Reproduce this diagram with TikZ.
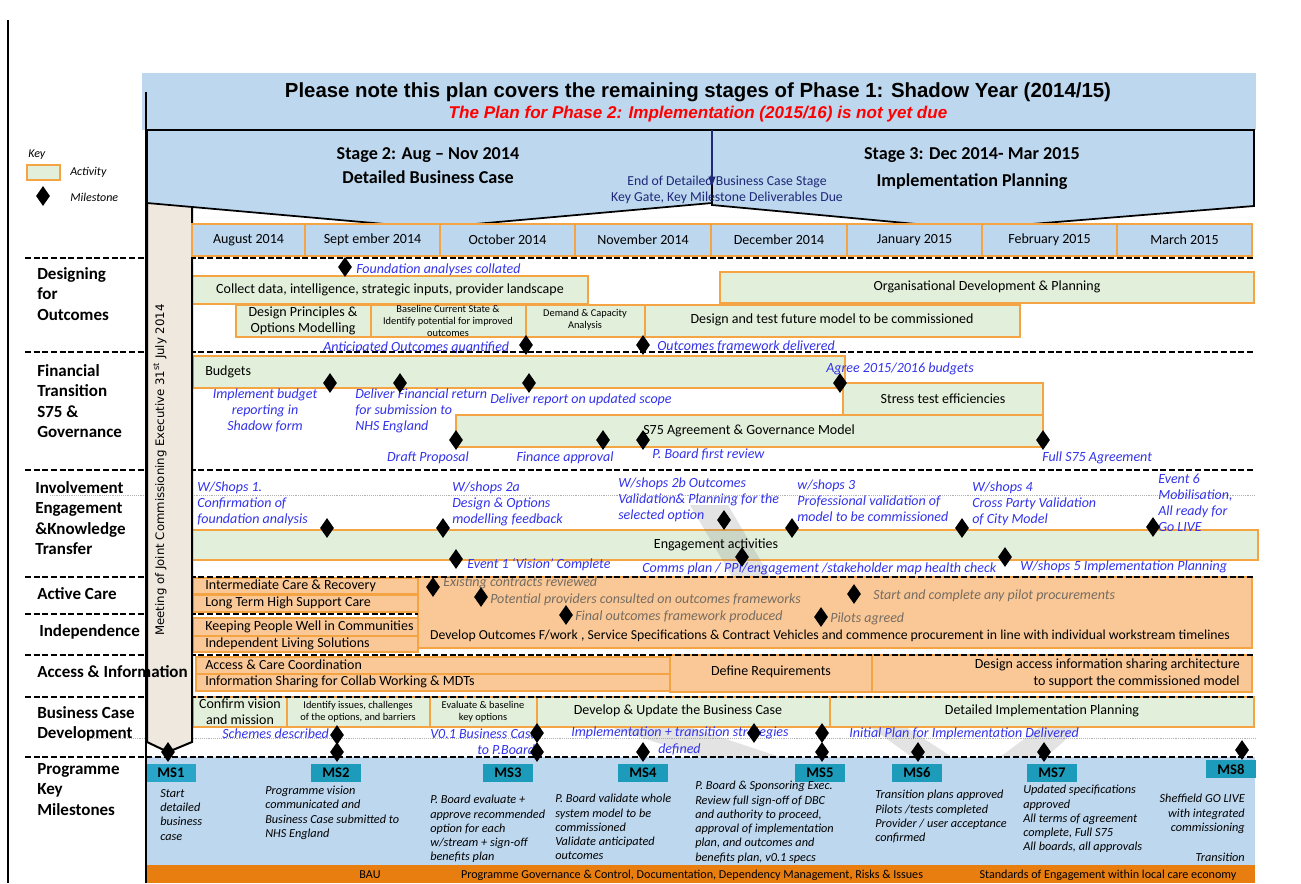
\documentclass[tikz,border=0pt]{standalone}
\usepackage{fontspec}
\setmainfont{Carlito}
\newfontfamily\arialfont{Liberation Sans}
\newfontfamily\barfont{DejaVu Sans}
\usetikzlibrary{shapes.geometric,arrows.meta}

\definecolor{hdrblue}{RGB}{189,215,238}
\definecolor{actgreen}{RGB}{226,239,218}
\definecolor{actedge}{RGB}{244,164,66}
\definecolor{carefill}{RGB}{250,200,150}
\definecolor{msteal}{RGB}{28,156,186}
\definecolor{msfirst}{RGB}{40,165,200}
\definecolor{bauorange}{RGB}{232,126,16}
\definecolor{barbeige}{RGB}{238,232,222}
\definecolor{noteblue}{RGB}{50,50,235}
\definecolor{notegrey}{RGB}{118,108,98}
\definecolor{gatenavy}{RGB}{32,40,120}

\tikzset{
  act/.style={draw=actedge, fill=actgreen, line width=0.9pt},
  care/.style={draw=actedge, fill=carefill, line width=0.9pt},
  sep/.style={line width=1.7pt, dash pattern=on 4.5pt off 2pt},
  ghost/.style={fill=gray, opacity=0.22},
  ms/.style={diamond, fill=black, inner sep=0pt, minimum width=10.5pt, minimum height=15pt},
  note/.style={text=noteblue, font=\fontsize{10.5}{12}\selectfont\itshape, inner sep=0pt, anchor=west, align=left},
  gnote/.style={text=notegrey, font=\fontsize{10.5}{12}\selectfont\itshape, inner sep=0pt, anchor=west},
  lbl/.style={font=\fontsize{12.75}{15.3}\selectfont\bfseries, anchor=north west, inner sep=0pt, align=left},
  txt/.style={font=\fontsize{10.5}{12}\selectfont, inner sep=0pt, align=center},
  small/.style={font=\fontsize{7.8}{9}\selectfont, inner sep=0pt, align=center},
  msbox/.style={fill=msteal, font=\fontsize{11}{12}\selectfont\bfseries, inner sep=0pt,
    minimum width=37.5pt, minimum height=13.5pt},
  msnote/.style={font=\fontsize{9.2}{10.7}\selectfont\itshape, align=left, anchor=north west, inner sep=0pt},
}

\begin{document}
\begin{tikzpicture}[x=0.75pt, y=-0.75pt]
\useasboundingbox (0,0) rectangle (1301,883);
% outer frame
\draw[line width=1pt] (8,20) -- (8,883);

% key
\node[font=\fontsize{9}{11}\selectfont\itshape, anchor=west, inner sep=0pt] (key) at (28,155) {Key};
\draw[act] (27,165) rectangle (60,180);
\node[font=\fontsize{9}{11}\selectfont\itshape, anchor=west, inner sep=0pt] (keyact) at (70,172) {Activity};
\node[ms] (keyms) at (43,196) {};
\node[font=\fontsize{9}{11}\selectfont\itshape, anchor=west, inner sep=0pt] (keymile) at (70,197) {Milestone};

% Designing for Outcomes
\draw[act] (192,276) rectangle (588,304);
\node[txt] (collect) at (390,290) {Collect data, intelligence, strategic inputs, provider landscape};
\draw[act] (720,272) rectangle (1254,303);
\node[txt] (orgdev) at (987,287) {Organisational  Development  \& Planning};
\draw[act] (236,305) rectangle (371,337);
\node[txt] (principles) at (303,321) {Design Principles \&\\Options Modelling};
\draw[act] (371,305) rectangle (526,337);
\node[small] (baseline) at (448,321) {Baseline Current State \&\\Identify potential for improved\\outcomes};
\draw[act] (526,305) rectangle (645,337);
\node[small] (demand) at (585,320) {Demand \& Capacity\\Analysis};
\draw[act] (645,305) rectangle (1020,337);
\node[txt] (testmodel) at (832,320) {Design and test future model to be commissioned};
\node[note] (nfound) at (356,270) {Foundation analyses collated};
\node[note] (nanticip) at (323,348) {Anticipated Outcomes quantified};
\node[note] (nframe) at (657,346) {Outcomes framework delivered};

% Financial Transition
\draw[act] (193,356) rectangle (845,388);
\node[txt, anchor=west] (budgets) at (205,372) {Budgets};
\draw[act] (843,383) rectangle (1043,415);
\node[txt] (stress) at (943,399) {Stress test efficiencies};
\draw[act] (456,415) rectangle (1043,447);
\node[txt, anchor=west] (s75) at (643,431) {S75 Agreement  \& Governance Model};
\node[note, anchor=north, align=center] (nimpl) at (265,388) {Implement budget\\reporting  in\\Shadow form};
\node[note, anchor=north west] (nreturn) at (355,388) {Deliver Financial return\\for submission to\\NHS England};
\node[note] (nreport) at (490,400) {Deliver report on updated scope};
\node[note] (nagree) at (826,369) {Agree 2015/2016 budgets};
\node[note, anchor=center] (ndraft) at (428,458) {Draft Proposal};
\node[note, anchor=center] (napprove) at (565,458) {Finance approval};
\node[note] (nreview) at (652,454) {P. Board  first review};
\node[note] (nfull) at (1042,458) {Full S75 Agreement};

% Involvement Engagement
\draw[densely dotted, gray!60, line width=0.4pt] (50,495) -- (1255,495);
\draw[act] (192,530) rectangle (1258,560);
\fill[ghost] (690,505) -- (728,505) -- (775,585) -- (737,585) -- cycle;
\node[txt] (engage) at (716,545) {Engagement activities};
\node[note, anchor=north west] (nws1) at (197,481) {W/Shops 1.\\Confirmation of\\foundation analysis};
\node[note, anchor=north west] (nws2a) at (452,481) {W/shops 2a\\Design \& Options\\modelling  feedback};
\node[note, anchor=north west] (nws2b) at (618,477) {W/shops 2b  Outcomes\\Validation\& Planning for the\\selected option};
\node[note, anchor=north west] (nws3) at (797,479) {w/shops  3\\Professional validation of\\model to be commissioned};
\node[note, anchor=north west] (nws4) at (972,481) {W/shops 4\\Cross Party Validation\\of City Model};
\node[note, anchor=north west] (nev6) at (1158,474) {Event 6\\Mobilisation,\\All ready for\\Go LIVE};
\node[note] (nev1) at (467,565) {Event 1 ‘Vision’ Complete};
\node[note] (ncomms) at (642,569) {Comms plan / PPI/engagement /stakeholder map health check};
\node[note] (nws5) at (1020,567) {W/shops 5  Implementation Planning};

% Active Care and Independence
\draw[care] (418,577) rectangle (1252,648);
\node[txt, font=\fontsize{10.3}{12}\selectfont] (develop) at (830,636) {Develop Outcomes F/work , Service Specifications \& Contract Vehicles and commence procurement in line with individual workstream timelines};
\draw[care] (193,578) rectangle (418,594);
\node[txt, anchor=west] (intcare) at (205,586) {Intermediate Care \& Recovery};
\draw[care] (193,595) rectangle (418,612);
\node[txt, anchor=west] (ltcare) at (205,603) {Long Term High Support Care};
\draw[care] (193,618) rectangle (418,636);
\node[txt, anchor=west] (keepwell) at (205,627) {Keeping People Well in Communities};
\draw[care] (193,636) rectangle (418,652);
\node[txt, anchor=west] (indliving) at (205,644) {Independent Living Solutions};
\node[gnote] (ncontracts) at (443,583) {Existing contracts reviewed};
\node[gnote] (nproviders) at (490,600) {Potential providers consulted  on outcomes frameworks};
\node[gnote] (nfinalfw) at (575,617) {Final outcomes framework produced};
\node[gnote] (npilotproc) at (873,596) {Start and complete any pilot procurements};
\node[gnote] (npilots) at (830,619) {Pilots agreed};

% Access and Information
\draw[care] (196,657) rectangle (670,674);
\node[txt, anchor=west] (accesscoord) at (205,665) {Access \& Care Coordination};
\draw[care] (196,674) rectangle (670,691);
\node[txt, anchor=west] (infoshare) at (205,682) {Information Sharing for Collab Working \& MDTs};
\draw[care] (670,655) rectangle (872,692);
\node[txt] (definereq) at (771,672) {Define Requirements};
\draw[care] (872,655) rectangle (1252,692);
\node[txt, anchor=east, align=right, font=\fontsize{10.5}{12.75}\selectfont] (architecture) at (1240,673) {Design access information sharing architecture\\to support the commissioned model};

% Business Case Development
\draw[densely dotted, gray!60, line width=0.4pt] (90,738) -- (1255,738);
\fill[ghost] (610,727) -- (690,727) -- (780,757) -- (700,757) -- cycle;
\fill[ghost] (870,727) -- (906,727) -- (952,757) -- (912,757) -- cycle;
\fill[ghost] (1040,727) -- (1080,727) -- (1046,757) -- (1000,757) -- cycle;
\draw[act] (193,697) rectangle (287,727);
\node[txt] (confirm) at (240,712) {Confirm vision\\and mission};
\draw[act] (287,697) rectangle (430,727);
\node[small] (issues) at (358,712) {Identify issues, challenges\\of the options, and barriers};
\draw[act] (430,697) rectangle (537,727);
\node[small] (evaluate) at (483,712) {Evaluate \& baseline\\key options};
\draw[act] (537,697) rectangle (830,727);
\node[txt] (update) at (678,711) {Develop \& Update the Business Case};
\draw[act] (830,697) rectangle (1254,727);
\node[txt] (detailed) at (1042,711) {Detailed Implementation Planning};
\node[note] (nschemes) at (222,734) {Schemes described};
\node[note] (nv01) at (430,734) {V0.1 Business Case};
\node[note] (npboard) at (477,750) {to P.Board};
\node[note] (nstrat) at (571,733) {Implementation +  transition strategies};
\node[note] (ndefined) at (658,749) {defined};
\node[note] (ninitial) at (849,734) {Initial Plan for Implementation Delivered};

% Programme Key Milestones
\fill[hdrblue] (146,757) rectangle (1255,865);
\fill[bauorange] (146,865) rectangle (1255,883);
\node[txt, font=\fontsize{9.1}{10}\selectfont] (bau) at (370,875) {BAU};
\node[txt, font=\fontsize{9.1}{10}\selectfont] (govern) at (692,875) {Programme Governance \& Control, Documentation, Dependency Management, Risks \& Issues};
\node[txt, font=\fontsize{9.1}{10}\selectfont] (standards) at (1108,875) {Standards of Engagement within local care economy};
\node[msbox, fill=msfirst] (ms1) at (171,773) {MS1};
\node[msbox] (ms2) at (336,773) {MS2};
\node[msbox] (ms3) at (508,773) {MS3};
\node[msbox] (ms4) at (643,773) {MS4};
\node[msbox] (ms5) at (820,773) {MS5};
\node[msbox] (ms6) at (917,773) {MS6};
\node[msbox] (ms7) at (1052,773) {MS7};
\node[msbox] (ms8) at (1231,769) {MS8};
\node[msnote] (t1) at (160,789) {Start\\detailed\\business\\case};
\node[msnote] (t2) at (265,786) {Programme vision\\communicated and\\Business Case  submitted to\\NHS England};
\node[msnote] (t3) at (430,795) {P. Board evaluate +\\approve recommended\\option for each\\w/stream + sign-off\\benefits  plan};
\node[msnote] (t4) at (555,794) {P. Board  validate whole\\system model to be\\commissioned\\Validate anticipated\\outcomes};
\node[msnote] (t5) at (695,781) {P. Board \& Sponsoring Exec.\\Review full sign-off of  DBC\\and authority to proceed,\\approval of implementation\\plan, and outcomes and\\benefits  plan, v0.1 specs};
\node[msnote] (t6) at (875,790) {Transition  plans approved\\Pilots /tests completed\\Provider / user acceptance\\confirmed};
\node[msnote] (t7) at (1023,785) {Updated specifications\\approved\\All terms of agreement\\complete, Full S75\\All boards, all approvals};
\node[msnote, anchor=north east, align=right] (t8) at (1245,794) {Sheffield GO LIVE\\with integrated\\commissioning};
\node[msnote, anchor=east] (t8b) at (1245,857) {Transition};

% separators
\foreach \y in {258,352,470,577,655,697,757}
  \draw[sep] (25,\y) -- (1255,\y);
\draw[sep] (25,614) -- (418,614);

% meeting bar
\draw[fill=barbeige, line width=1.5pt] (147,100) -- (147,742) -- (168,752) -- (192,742) -- (192,100);
\node[rotate=90, font=\barfont\fontsize{8.8}{10}\selectfont] (meeting) at (160,470)
  {Meeting of Joint Commissioning Executive 31\textsuperscript{st} July 2014};

% banner and stages
\fill[hdrblue] (142,73) rectangle (1256,130);
\node[font=\arialfont\fontsize{15.3}{17}\selectfont\bfseries] (title) at (698,92)
  {Please note this plan covers the remaining stages of Phase 1: Shadow Year (2014/15)};
\node[font=\arialfont\fontsize{12.8}{14}\selectfont\bfseries\itshape, text=red] (subtitle) at (698,114)
  {The Plan for Phase 2:  Implementation (2015/16) is not yet due};
\draw[fill=hdrblue, line width=1.3pt] (147,130) -- (712,130) -- (712,203) -- (430,228) -- (147,203) -- cycle;
\draw[fill=hdrblue, line width=1.3pt] (712,130) -- (1254,130) -- (1254,206) -- (970,229) -- (712,205) -- cycle;
% month row
\foreach \xa/\xb/\m [count=\i] in {192/305/August  2014, 305/440/Sept ember 2014, 440/575/October 2014,
    575/711/November 2014, 711/847/December 2014, 847/982/January 2015, 982/1117/February 2015, 1117/1252/March 2015}{
  \draw[fill=hdrblue, draw=actedge, line width=0.9pt] (\xa,224) rectangle (\xb,256);
  \node[txt] (m\i) at ({(\xa+\xb)/2},240) {\m};
}
\node[font=\fontsize{13.6}{16}\selectfont\bfseries] (stage2) at (428,155) {Stage 2:  Aug – Nov 2014};
\node[font=\fontsize{13.6}{16}\selectfont\bfseries] (stage2b) at (428,177) {Detailed Business Case};
\node[font=\fontsize{13.6}{16}\selectfont\bfseries] (stage3) at (972,155) {Stage 3: Dec 2014- Mar 2015};
\node[font=\fontsize{13.6}{16}\selectfont\bfseries] (stage3b) at (972,182) {Implementation Planning};
\coordinate (gatetop) at (712,130);
\coordinate (gatetip) at (712,186);
\draw[-{Triangle[length=7pt,width=5pt]}, gatenavy, line width=1.3pt] (gatetop) -- (gatetip);
\node[txt, text=gatenavy, font=\fontsize{10.3}{12}\selectfont] (gate1) at (727,182) {End of Detailed Business Case Stage};
\node[txt, text=gatenavy, font=\fontsize{10.3}{12}\selectfont] (gate2) at (727,198) {Key Gate, Key Milestone Deliverables  Due};
\draw[line width=1.5pt] (146,92) -- (146,883);

% row labels
\node[lbl] (lab1) at (37,267) {Designing\\for\\Outcomes};
\node[lbl] (lab2) at (37,364) {Financial\\Transition\\S75 \&\\Governance};
\node[lbl] (lab3) at (35,481) {Involvement\\Engagement\\\&Knowledge\\Transfer};
\node[lbl, anchor=west] (lab4) at (37,594) {Active Care};
\node[lbl, anchor=west] (lab5) at (39,632) {Independence};
\node[lbl, anchor=west] (lab6) at (37,672) {Access \& Information};
\node[lbl] (lab7) at (37,706) {Business Case\\Development};
\node[lbl] (lab8) at (37,763) {Programme\\Key\\Milestones};

% milestones
\foreach \x/\y [count=\k] in {345/267, 526/345, 643/345, 330/383, 400/383, 529/383, 840/383,
    456/440, 603/440, 643/440, 1043/440, 327/528, 443/528, 724/520, 792/528, 962/528, 1153/527,
    456/559, 742/557, 1005/557, 433/587, 481/597, 566/615, 854/594, 821/617,
    168/752, 337/735, 337/752, 537/733, 537/752, 643/752, 754/733, 822/733, 822/752, 918/752, 1044/752, 1242/750}
  \node[ms] (d\k) at (\x,\y) {};
\end{tikzpicture}
\end{document}
